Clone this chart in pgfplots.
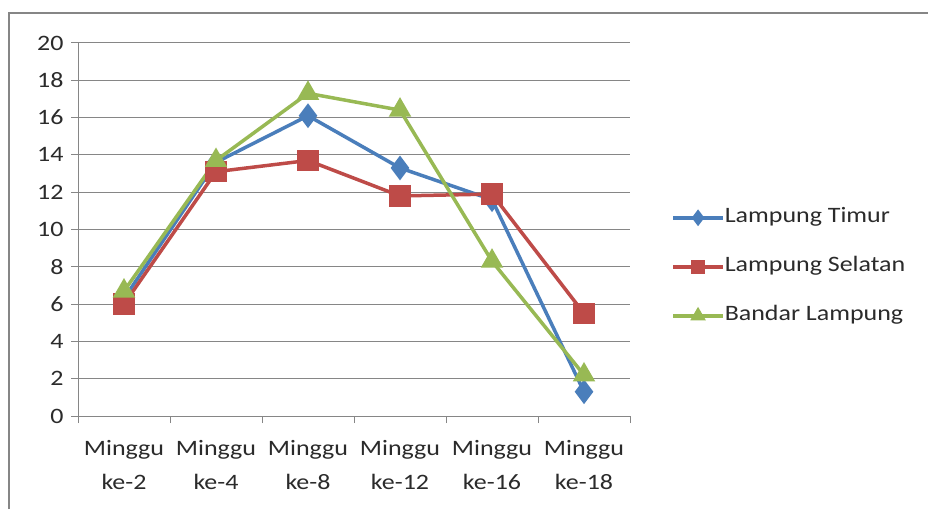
\documentclass[border=0pt]{standalone}
\usepackage{fontspec}
\setmainfont{Carlito}[FakeStretch=1.18]
\usepackage{pgfplots}
\pgfplotsset{compat=1.18}
\definecolor{ltimur}{HTML}{4A7EBB}
\definecolor{lselatan}{HTML}{BE4B48}
\definecolor{bandar}{HTML}{98B954}
\definecolor{gridc}{HTML}{868686}
\definecolor{txt}{HTML}{2B2B2B}
\begin{document}
\begin{tikzpicture}
\useasboundingbox (0,0) rectangle (928pt,509pt);
\fill[white] (0,0) rectangle (928pt,509pt);
\draw[color=gridc, line width=1.5pt] (9pt,0) -- (9pt,496pt) -- (928pt,496pt);
\begin{axis}[
  at={(78pt,93pt)}, anchor=south west,
  scale only axis, width=552pt, height=373pt,
  xmin=-0.5, xmax=5.5, ymin=0, ymax=20,
  ytick={0,2,...,20},
  xtick={-0.5,0.5,1.5,2.5,3.5,4.5,5.5}, xticklabels={},
  extra x ticks={0,1,2,3,4,5},
  extra x tick labels={{Minggu\\ke-2},{Minggu\\ke-4},{Minggu\\ke-8},{Minggu\\ke-12},{Minggu\\ke-16},{Minggu\\ke-18}},
  extra x tick style={major tick length=0pt, grid=none},
  axis x line*=bottom, axis y line*=left,
  axis line style={-, gridc, line width=1pt},
  tick align=outside, major tick length=7pt,
  tick style={gridc, line width=1pt},
  ymajorgrids, grid style={gridc, line width=1pt},
  /pgf/number format/assume math mode=true,
  tick label style={font=\fontsize{22}{34}\selectfont, text=txt},
  xticklabel style={align=center, yshift=-21pt},
  yticklabel style={xshift=-4pt},
  legend style={at={(1.069,0.40)}, anchor=west, draw=none, fill=none,
    font=\fontsize{22}{26}\selectfont, text=txt, row sep=29pt,
    nodes={inner sep=0pt, text height=15pt, text depth=5pt}},
  legend cell align=left,
  legend image code/.code={\draw[#1, mark size=5.5pt, mark repeat=2, mark phase=2] plot coordinates {(0pt,0pt) (25pt,0pt) (50pt,0pt)};},
]
\addplot[ltimur, line width=3.5pt, mark=diamond*, mark size=9.5pt, mark options={solid}] coordinates {(0,6.3) (1,13.6) (2,16.1) (3,13.3) (4,11.6) (5,1.3)};
\addlegendentry{Lampung Timur}
\addplot[lselatan, line width=3.5pt, mark=square*, mark size=9pt] coordinates {(0,6.0) (1,13.1) (2,13.7) (3,11.8) (4,11.9) (5,5.5)};
\addlegendentry{Lampung Selatan}
\addplot[bandar, line width=3.5pt, mark=triangle*, mark size=9.5pt] coordinates {(0,6.7) (1,13.7) (2,17.3) (3,16.4) (4,8.3) (5,2.2)};
\addlegendentry{Bandar Lampung}
\end{axis}
\end{tikzpicture}
\end{document}
